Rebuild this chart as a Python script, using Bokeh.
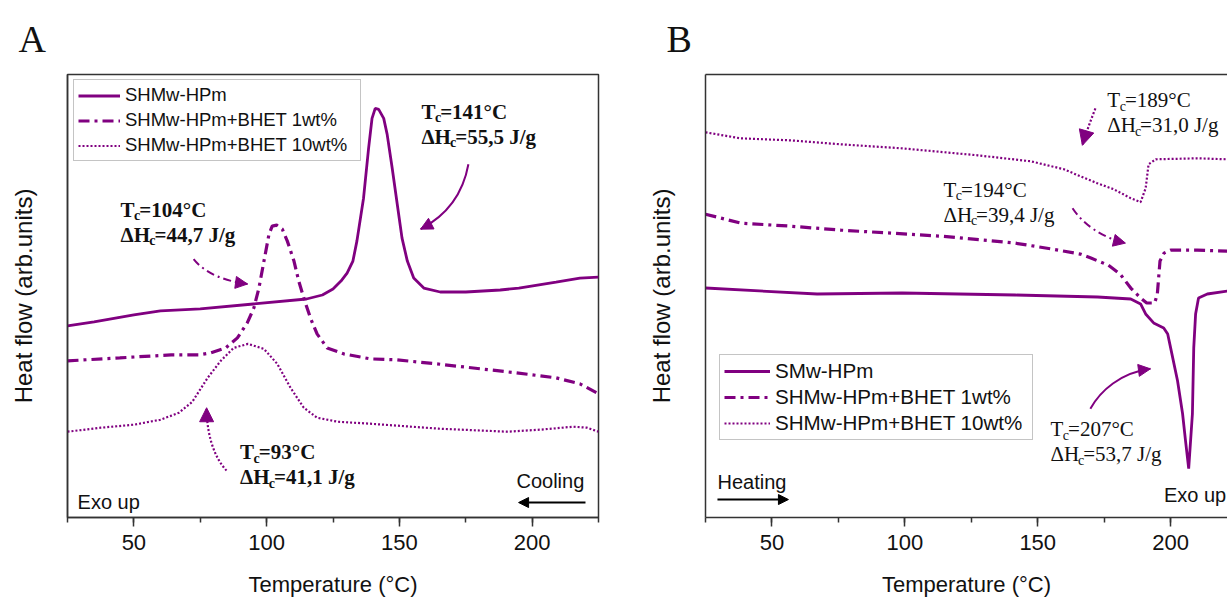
from bokeh.plotting import figure
from bokeh.layouts import row
from bokeh.models import (Range1d, SingleIntervalTicker, FixedTicker, Legend, LegendItem,
                          Label, Arrow, NormalHead, LinearAxis)
from bokeh.embed import file_html
from bokeh.resources import INLINE

PURPLE = "#800080"
SANS = "Liberation Sans"
SERIF = "Liberation Serif"

# ---------------- Panel A (cooling) ----------------
a_solid_T = [25, 35, 50, 60, 75, 95, 115, 121, 125, 128, 130.3, 132.5, 134, 136.5, 138.4,
             139.7, 140.9, 142.2, 144.1, 145.4, 147.3, 149.2, 151, 153, 155.4, 159.2, 165.4,
             175, 188, 195, 209, 218, 225]
a_solid_v = [192, 196, 203, 207, 209, 214, 219, 223, 229, 237, 245, 257, 277, 320, 370,
             400, 410, 409, 400, 384, 350, 314, 280, 257, 240, 230, 226,
             226, 228, 230, 236, 240, 241]

a_1wt_T = [25, 44.7, 64, 74.5, 79, 84.6, 89, 92.7, 95.2, 97.1, 99, 100.9, 102.1, 103.8, 105.9,
           107.8, 110.3, 112.1, 114, 116.5, 119, 122.8, 129, 139, 149, 164, 194, 209, 218, 225]
a_1wt_v = [157, 160, 163, 163, 165, 170, 180, 195, 210, 230, 257, 284, 292, 293, 289,
           277, 257, 237, 220, 200, 184, 170, 164, 159, 158, 154, 145, 140, 134, 124]

a_10wt_T = [25, 37.6, 50, 60, 67, 72, 77.8, 82.7, 87.6, 93, 99, 104, 109, 114, 119, 126.7,
            139, 165, 190.6, 203, 215.5, 220.7, 225]
a_10wt_v = [86, 90, 93, 98, 105, 116, 140, 157, 170, 174, 169, 154, 130, 110, 100, 96,
            94, 89, 86, 88, 91, 90, 86]

# ---------------- Panel B (heating) ----------------
b_solid_T = [25, 67, 99, 141.5, 172.5, 185, 188.7, 190.6, 193.6, 197.4, 198.9, 200, 202.6,
             204.5, 205.6, 206.8, 208.2, 208.7, 209.4, 210.5, 213.8, 221.4]
b_solid_v = [230, 224, 225, 223, 221, 219, 214, 204, 195, 190, 184, 170, 137,
             104, 77, 49, 104, 170, 204, 220, 224, 227]

b_1wt_T = [25, 38.3, 57, 76, 113.5, 141.5, 155.6, 166, 170, 176.5, 181, 185, 188.7, 191,
           194, 195, 196, 197.5, 200, 210, 221.4]
b_1wt_v = [304, 295, 292, 288, 282, 275, 269, 264, 260, 253, 244, 230, 220, 215,
           215, 224, 257, 265, 268, 268, 267]

b_10wt_T = [25, 38.3, 57, 76, 99, 127.4, 147.4, 159.9, 166, 172.4, 178.6, 185, 188.7, 190.6,
            191.7, 194.4, 210, 221.4]
b_10wt_v = [386, 380, 378, 374, 370, 363, 357, 349, 342, 335, 329, 320, 316, 330,
            354, 359, 360, 359]

legend_a = ["SHMw-HPm", "SHMw-HPm+BHET 1wt%", "SHMw-HPm+BHET 10wt%"]
legend_b = ["SMw-HPm", "SHMw-HPm+BHET 1wt%", "SHMw-HPm+BHET 10wt%"]

# annotation texts: (x, y baseline of T line, Tc text, dH text)
ann_a = [(158.3, 400.5, "=141°C", "=55,5 J/g"),
         (45.0, 302, "=104°C", "=44,7 J/g"),
         (90.0, 59, "=93°C", "=41,1 J/g")]
ann_b = [(176.2, 412, "=189°C", "=31,0 J/g"),
         (114.5, 322, "=194°C", "=39,4 J/g"),
         (154.8, 82, "=207°C", "=53,7 J/g")]

# curved arrows: x0,y0, cx0,cy0, cx1,cy1, x1,y1, dash, head size
arr_a = [(176.0, 354, 173.8, 322, 167.4, 302, 158.0, 289, "solid", 12),
         (72.5, 259, 77.0, 244, 84.5, 237, 92.8, 234, "8 4 2 4", 12),
         (84.9, 47, 79.6, 62, 77.4, 87, 77.4, 110, "2 2", 14)]
arr_b = [(171.7, 410, 169.8, 397, 168.0, 384, 166.8, 373, "2 2", 15),
         (163.1, 310, 166.8, 295, 173.6, 281, 183.0, 275, "8 4 2 4", 12),
         (169.8, 109, 173.6, 127, 181.1, 145, 192.4, 149, "solid", 12)]

FS = 21
SUB = 14
MID = 0.3   # label y is rendered at text middle: shift by this fraction of font size


def make_fig(width, min_left, min_right, x_end, letter, letter_offset, letter_standoff):
    p = figure(width=width, height=599, x_range=Range1d(25, x_end), y_range=Range1d(0, 444),
               output_backend="svg", toolbar_location=None,
               min_border_left=min_left, min_border_right=min_right,
               min_border_top=73, min_border_bottom=82)
    p.background_fill_color = "white"
    p.border_fill_color = "white"
    p.xgrid.visible = False
    p.ygrid.visible = False
    xa = p.xaxis[0]
    xa.ticker = SingleIntervalTicker(interval=50, num_minor_ticks=2)
    xa.axis_label = "Temperature (°C)"
    xa.axis_label_text_font = SANS
    xa.axis_label_text_font_size = "22px"
    xa.axis_label_text_font_style = "normal"
    xa.axis_label_text_color = "#111111"
    xa.axis_label_standoff = 19
    xa.major_label_text_font = SANS
    xa.major_label_text_font_size = "22px"
    xa.major_label_text_color = "#111111"
    xa.major_label_standoff = 8
    xa.major_tick_out = 9
    xa.major_tick_in = 0
    xa.minor_tick_out = 5
    xa.minor_tick_in = 0
    xa.axis_line_width = 1.5
    xa.axis_line_color = "#333333"
    xa.major_tick_line_color = "#333333"
    xa.minor_tick_line_color = "#333333"
    xa.major_tick_line_width = 1.5
    xa.minor_tick_line_width = 1.5
    ya = p.yaxis[0]
    ya.ticker = FixedTicker(ticks=[])
    ya.axis_label = "Heat flow (arb.units)"
    ya.axis_label_text_font = SANS
    ya.axis_label_text_font_size = "24px"
    ya.axis_label_text_font_style = "normal"
    ya.axis_label_text_color = "#111111"
    ya.axis_label_standoff = 31
    ya.major_tick_out = 0
    ya.minor_tick_out = 0
    ya.axis_line_width = 1.5
    ya.axis_line_color = "#333333"
    p.title.text = letter
    p.title.text_font = SERIF
    p.title.text_font_size = "38px"
    p.title.text_font_style = "normal"
    p.title.text_color = "#111111"
    p.title.align = "left"
    p.title.offset = letter_offset
    p.title.standoff = letter_standoff
    return p


def add_curves(p, data, labels, loc, font_px, glyph_w, label_h, label_w, spacing):
    r1 = p.line(data[0][0], data[0][1], line_color=PURPLE, line_width=2.8)
    r2 = p.line(data[1][0], data[1][1], line_color=PURPLE, line_width=3.2, line_dash="11 5 3 5")
    r3 = p.line(data[2][0], data[2][1], line_color=PURPLE, line_width=2.2, line_dash="2 2")
    leg = Legend(items=[LegendItem(label=labels[0], renderers=[r1]),
                        LegendItem(label=labels[1], renderers=[r2]),
                        LegendItem(label=labels[2], renderers=[r3])],
                 location=loc, label_text_font=SANS, label_text_font_size=f"{font_px}px",
                 label_text_color="#111111", glyph_width=glyph_w, glyph_height=label_h,
                 label_height=label_h, label_width=label_w, label_standoff=5,
                 spacing=spacing, padding=4, margin=0,
                 border_line_color="#8a8a8a", border_line_width=1.2,
                 background_fill_color="white", background_fill_alpha=1.0)
    p.add_layout(leg)


def add_annots(p, anns, bold):
    style = "bold" if bold else "normal"
    wT = (0.667 if bold else 0.611) * FS
    wDH = ((0.612 + 0.778) if bold else (0.612 + 0.722)) * FS
    for (x, y, t1, t2) in anns:
        for (pre, w, rest, yy) in (("T", wT, t1, y), ("ΔH", wDH, t2, y - 25)):
            common = dict(x=x, y=yy + MID * FS, text_font=SERIF, text_font_style=style,
                          text_baseline="alphabetic", text_color="#111111")
            p.add_layout(Label(text=pre, text_font_size=f"{FS}px", **common))
            p.add_layout(Label(text="c", text_font_size=f"{SUB}px", x_offset=w - 0.5,
                               y_offset=-6, **common))
            p.add_layout(Label(text=rest, text_font_size=f"{FS}px",
                               x_offset=w + 0.444 * SUB - 1.5, **common))


def add_arrows(p, arrs):
    for (x0, y0, cx0, cy0, cx1, cy1, x1, y1, dash, hs) in arrs:
        lw = 2.0 if dash != "2 2" else 2.2
        p.bezier(x0=[x0], y0=[y0], cx0=[cx0], cy0=[cy0], cx1=[cx1], cy1=[cy1], x1=[x1], y1=[y1],
                 line_color=PURPLE, line_width=lw, line_dash=dash)
        p.add_layout(Arrow(end=NormalHead(size=hs, fill_color=PURPLE, line_color=PURPLE,
                                          line_width=1),
                           x_start=cx1, y_start=cy1, x_end=x1, y_end=y1, line_alpha=0))


def add_note(p, x, y, text):
    p.add_layout(Label(x=x, y=y + MID * 20, text=text, text_font=SANS, text_font_size="20px",
                       text_baseline="alphabetic", text_color="#111111"))


# -------- Panel A --------
pa = make_fig(640, 67, 42, 225, "A", -49, 30)
pa.outline_line_color = "#333333"
pa.outline_line_width = 1.5
add_curves(pa, [(a_solid_T, a_solid_v), (a_1wt_T, a_1wt_v), (a_10wt_T, a_10wt_v)],
           legend_a, (6, 356), 18.5, 42, 19, 231, 3)
add_annots(pa, ann_a, True)
add_arrows(pa, arr_a)
add_note(pa, 28.8, 10, "Exo up")
add_note(pa, 194.1, 31, "Cooling")
pa.add_layout(Arrow(end=NormalHead(size=10, fill_color="black", line_color="black"),
                    x_start=220.1, y_start=15, x_end=194.9, y_end=15,
                    line_color="black", line_width=2))

# -------- Panel B --------
pb = make_fig(587, 65, 0, 221.4, "B", -39, 29)
pb.outline_line_color = None
top_axis = LinearAxis(ticker=FixedTicker(ticks=[]), major_tick_out=0, minor_tick_out=0,
                      axis_line_color="#333333", axis_line_width=1.5,
                      major_label_text_font_size="0px")
pb.add_layout(top_axis, "above")
add_curves(pb, [(b_solid_T, b_solid_v), (b_1wt_T, b_1wt_v), (b_10wt_T, b_10wt_v)],
           legend_b, (14, 77), 20.6, 46, 22, 253, 2)
add_annots(pb, ann_b, False)
add_arrows(pb, arr_b)
add_note(pb, 197.5, 17, "Exo up")
add_note(pb, 29.5, 30, "Heating")
pb.add_layout(Arrow(end=NormalHead(size=10, fill_color="black", line_color="black"),
                    x_start=29.5, y_start=18, x_end=56.2, y_end=18,
                    line_color="black", line_width=2))

layout = row(pa, pb)
open("out.html", "w").write(file_html(layout, INLINE, title="DSC"))
